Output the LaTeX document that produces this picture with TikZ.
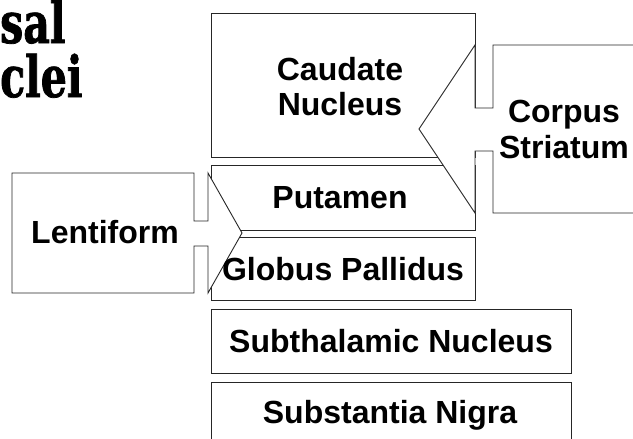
\documentclass[tikz,border=0pt]{standalone}
\usepackage{fontspec}
\setmainfont{Liberation Sans}
\newfontfamily\titlefont[FakeStretch=0.72, FakeBold=1.3]{DejaVu Serif Bold}
\begin{document}
\begin{tikzpicture}[x=1pt,y=-1pt,
  frame/.style={draw=black!85, line width=0.9pt},
  box/.style={frame, anchor=north west, inner sep=0pt, outer sep=0pt},
  callout/.style={frame, fill=white, line join=miter},
  lbl/.style={font=\fontsize{32}{35}\selectfont\bfseries, inner sep=0pt},
  heading/.style={font=\titlefont\fontsize{57}{60}\selectfont, inner sep=0pt,
    text height=40pt, text depth=0pt, anchor=base west}]
\useasboundingbox (0,0) rectangle (633,439);
\clip (0,0) rectangle (633,439);

% heading fragments at the top left
\node[heading] (h1) at (0,43) {sal};
\node[heading] (h2) at (0,97) {clei};

% nuclei boxes
\node[box, minimum width=264pt, minimum height=144pt] (caudate) at (211,13) {};
\node[box, minimum width=264pt, minimum height=65pt] (putamen) at (211,165) {};
\node[box, minimum width=264pt, minimum height=63pt] (globus) at (211,237) {};
\node[box, minimum width=360pt, minimum height=64pt] (subthal) at (211,309) {};
\node[box, minimum width=360pt, minimum height=70pt] (nigra) at (211,382) {};

% Corpus Striatum callout, pointing left
\coordinate (cstip) at (419,129);
\draw[callout] (cstip) -- (475,45) -- (475,108) -- (493,108) -- (493,45)
  -- (660,45) -- (660,213) -- (493,213) -- (493,151) -- (475,151)
  -- (475,213) -- cycle;

% Lentiform callout, pointing right
\coordinate (lftip) at (242,233);
\draw[callout] (12,173) -- (194,173) -- (194,221) -- (208,221) -- (208,173)
  -- (lftip) -- (208,293) -- (208,246) -- (194,246) -- (194,293)
  -- (12,293) -- cycle;

% labels
\node[lbl, align=center] (tcaud) at (340,87) {Caudate\\Nucleus};
\node[lbl, anchor=base] (tput) at (340,208) {Putamen};
\node[lbl, anchor=base] (tglob) at (343,280) {Globus Pallidus};
\node[lbl, anchor=base] (tsub) at (391,352) {Subthalamic Nucleus};
\node[lbl, anchor=base] (tnig) at (390,423) {Substantia Nigra};
\node[lbl, anchor=base] (tlent) at (105,243) {Lentiform};
\node[lbl, align=center, font=\fontsize{32}{36}\selectfont\bfseries] (tcorp) at (564,129.5) {Corpus\\Striatum};
\end{tikzpicture}
\end{document}
